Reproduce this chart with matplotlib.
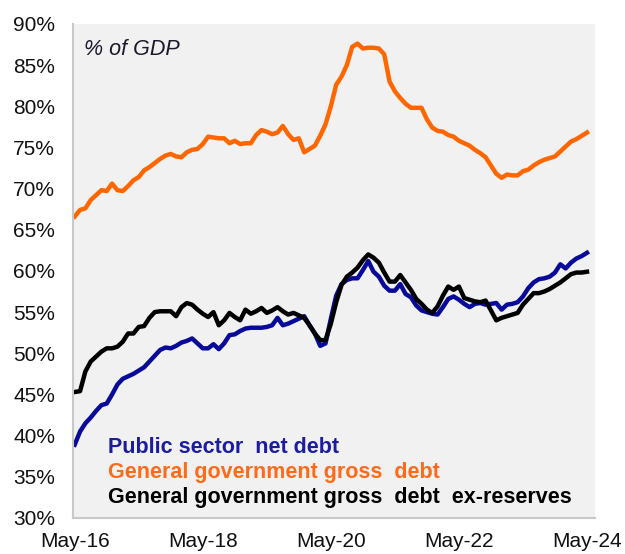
import numpy as np
import pandas as pd
import matplotlib
matplotlib.use("Agg")
import matplotlib.pyplot as plt

plt.rcParams["font.family"] = ["Liberation Sans", "DejaVu Sans"]

# ── データ（月次, May-16 〜 May-24, % of GDP）──
months = pd.date_range("2016-05-01", "2024-05-01", freq="MS")

psnd = [38.9, 40.5, 41.5, 42.2, 43.0, 43.7, 43.9, 45.0, 46.2, 46.9,
        47.2, 47.5, 47.9, 48.3, 49.0, 49.7, 50.4, 50.7, 50.6, 50.9,
        51.3, 51.5, 51.8, 51.2, 50.6, 50.6, 51.1, 50.5, 51.2, 52.2,
        52.3, 52.7, 53.0, 53.1, 53.1, 53.1, 53.2, 53.4, 54.3, 53.4,
        53.6, 53.9, 54.2, 54.5, 53.4, 52.4, 50.9, 51.2, 54.2, 57.0,
        58.4, 58.9, 59.1, 59.1, 60.1, 61.2, 59.9, 59.3, 58.2, 57.6,
        57.6, 58.4, 57.2, 56.8, 55.8, 55.2, 55.0, 54.8, 54.7, 55.6,
        56.6, 56.9, 56.5, 56.0, 55.6, 56.0, 56.1, 55.9, 56.0, 56.1,
        55.3, 55.9, 56.0, 56.2, 56.9, 57.9, 58.6, 59.0, 59.1, 59.3,
        59.8, 60.8, 60.3, 61.0, 61.5, 61.8, 62.2]

gg_gross = [66.6, 67.4, 67.6, 68.6, 69.2, 69.8, 69.7, 70.6, 69.8, 69.7,
            70.3, 71.0, 71.4, 72.2, 72.6, 73.1, 73.6, 74.0, 74.2, 73.9,
            73.8, 74.4, 74.7, 74.8, 75.4, 76.3, 76.2, 76.1, 76.1, 75.5,
            75.8, 75.4, 75.5, 75.5, 76.5, 77.1, 76.9, 76.6, 76.8, 77.6,
            76.6, 75.9, 76.1, 74.4, 74.8, 75.2, 76.4, 77.8, 80.0, 82.6,
            83.6, 85.0, 87.2, 87.6, 87.0, 87.1, 87.1, 87.0, 86.3, 83.0,
            81.8, 81.0, 80.3, 79.8, 79.8, 79.8, 78.4, 77.4, 77.0, 76.9,
            76.5, 76.3, 75.8, 75.5, 75.2, 74.7, 74.3, 73.8, 72.8, 71.8,
            71.3, 71.7, 71.6, 71.6, 72.1, 72.3, 72.8, 73.2, 73.5, 73.7,
            73.9, 74.5, 75.1, 75.7, 76.0, 76.4, 76.8]

gg_gross_ex_res = [45.3, 45.4, 47.8, 49.0, 49.6, 50.2, 50.6, 50.6, 50.8, 51.4,
                   52.4, 52.4, 53.2, 53.3, 54.3, 55.0, 55.1, 55.1, 55.1, 54.5,
                   55.6, 56.1, 55.9, 55.3, 54.8, 54.4, 55.0, 53.4, 54.0, 54.9,
                   54.4, 54.0, 55.3, 54.8, 55.1, 55.5, 54.9, 55.2, 55.6, 55.1,
                   54.7, 54.9, 54.6, 54.3, 53.4, 52.4, 51.6, 51.6, 53.6, 56.2,
                   58.3, 59.3, 59.8, 60.4, 61.3, 62.0, 61.6, 61.0, 59.8, 58.7,
                   58.7, 59.5, 58.6, 57.7, 56.6, 56.0, 55.3, 54.9, 55.7, 57.0,
                   58.1, 57.7, 58.1, 56.7, 56.5, 56.3, 56.2, 56.4, 55.2, 54.0,
                   54.3, 54.5, 54.7, 54.9, 55.9, 56.6, 57.3, 57.3, 57.5, 57.8,
                   58.2, 58.6, 59.1, 59.6, 59.8, 59.8, 59.9]

yticks = list(range(30, 91, 5))
xtick_pos = [0, 24, 48, 72, 96]

BLUE = "#0A0A9A"
ORANGE = "#FF6600"
BLACK = "#000000"

# ── 描画 ──
fig = plt.figure(figsize=(6.25, 5.54), dpi=100)
ax = fig.add_axes([0.117, 0.065, 0.835, 0.892])
ax.set_facecolor("#F1F1F1")

x = np.arange(len(months))
ax.plot(x, gg_gross, color=ORANGE, lw=3.2, solid_joinstyle="round")
ax.plot(x, psnd, color=BLUE, lw=3.2, solid_joinstyle="round")
ax.plot(x, gg_gross_ex_res, color=BLACK, lw=3.2, solid_joinstyle="round")

ax.set_xlim(-0.3, 97.5)
ax.set_ylim(30, 90)
ax.set_yticks(yticks)
ax.set_yticklabels([f"{v}%" for v in yticks])
ax.set_xticks(xtick_pos)
ax.set_xticklabels([months[i].strftime("%b-%y") for i in xtick_pos])
ax.tick_params(axis="both", length=0, labelsize=15, colors="#111111")
ax.tick_params(axis="y", pad=13)
ax.tick_params(axis="x", pad=10)

for s in ["top", "right"]:
    ax.spines[s].set_visible(False)
for s in ["left", "bottom"]:
    ax.spines[s].set_color("#C8C8C8")
    ax.spines[s].set_linewidth(1.5)

ax.text(0.02, 0.948, "% of GDP", transform=ax.transAxes, fontsize=15.5,
        style="italic", color="#1A1A2A", va="center", ha="left")

# 凡例はテキストで
legend_items = [("Public sector  net debt", "#1C1CA0"),
                ("General government gross  debt", "#FF6A1A"),
                ("General government gross  debt  ex-reserves", BLACK)]
for i, (txt, col) in enumerate(legend_items):
    ax.text(0.067, 0.142 - i * 0.0506, txt, transform=ax.transAxes,
            fontsize=15.5, fontweight="bold", color=col,
            va="center", ha="left")

fig.savefig("out.png", dpi=100)
